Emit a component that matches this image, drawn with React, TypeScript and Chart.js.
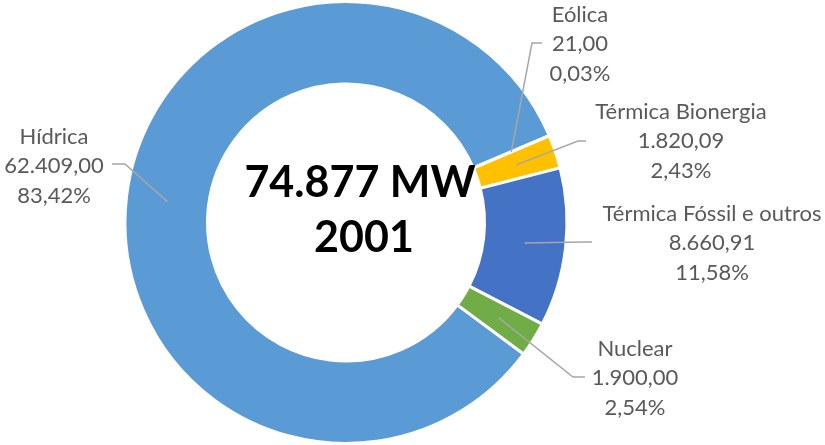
import React, { useEffect, useRef } from "react";
import { Chart, registerables } from "chart.js";

Chart.register(...registerables);

const categories = ["Hídrica", "Eólica", "Térmica Bionergia", "Térmica Fóssil e outros", "Nuclear"];
const valuesMW = [62409.0, 21.0, 1820.09, 8660.91, 1900.0];
const colors = ["#5B9BD5", "#ED7D31", "#FFC000", "#4472C4", "#70AD47"];
const centerLines = ["74.877 MW", "2001"];

// label layout: text centre x, middle-line y, leader end x/y, elbow x
const labelLayout = [
  { tx: 54, ty: 166, ex: 112, ey: 164, bx: 125 },
  { tx: 580, ty: 44, ex: 542, ey: 43, bx: 532 },
  { tx: 681, ty: 141, ex: 586, ey: 141, bx: 578 },
  { tx: 712, ty: 243, ex: 592, ey: 242, bx: 584 },
  { tx: 635, ty: 378, ex: 585, ey: 377, bx: 573 },
];

function fmtBR(v: number, digits: number): string {
  const fixed = v.toFixed(digits);
  const [intPart, dec] = fixed.split(".");
  const withDots = intPart.replace(/\B(?=(\d{3})+(?!\d))/g, ".");
  return dec !== undefined ? withDots + "," + dec : withDots;
}

const labelsPlugin = {
  id: "donutLabels",
  afterDraw(chart: any) {
    const ctx = chart.ctx;
    const meta = chart.getDatasetMeta(0);
    const data = chart.data.datasets[0].data as number[];
    const total = data.reduce((a, b) => a + b, 0);
    ctx.save();
    meta.data.forEach((arc: any, i: number) => {
      const p = arc.getProps(["x", "y", "startAngle", "endAngle", "innerRadius", "outerRadius"], true);
      const mid = (p.startAngle + p.endAngle) / 2;
      const r = (p.innerRadius + p.outerRadius) / 2;
      const ax = p.x + Math.cos(mid) * r;
      const ay = p.y + Math.sin(mid) * r;
      const L = labelLayout[i];
      ctx.strokeStyle = "#A6A6A6";
      ctx.lineWidth = 1.5;
      ctx.beginPath();
      ctx.moveTo(ax, ay);
      ctx.lineTo(L.bx, L.ey);
      ctx.lineTo(L.ex, L.ey);
      ctx.stroke();
      ctx.fillStyle = "#595959";
      ctx.font = "22px Lato";
      ctx.textAlign = "center";
      ctx.textBaseline = "middle";
      const lines = [
        chart.data.labels[i],
        fmtBR(data[i], 2),
        fmtBR((data[i] / total) * 100, 2) + "%",
      ];
      lines.forEach((t: string, k: number) => {
        ctx.fillText(t, L.tx, L.ty + (k - 1) * 29.5);
      });
    });
    // centre title
    const a0 = meta.data[0].getProps(["x", "y"], true);
    ctx.fillStyle = "#000000";
    ctx.font = "bold 43px Lato";
    ctx.textAlign = "center";
    ctx.textBaseline = "alphabetic";
    ctx.fillText(centerLines[0], a0.x + 14, a0.y - 26);
    ctx.fillText(centerLines[1], a0.x + 18, a0.y + 29);
    ctx.restore();
  },
};

export default function App() {
  const ref = useRef<HTMLCanvasElement>(null);
  useEffect(() => {
    document.body.style.margin = "0";
    const chart = new Chart(ref.current as HTMLCanvasElement, {
      type: "doughnut",
      data: {
        labels: categories,
        datasets: [
          {
            data: valuesMW,
            backgroundColor: colors,
            borderColor: "#FFFFFF",
            borderWidth: 3,
            hoverOffset: 0,
          },
        ],
      },
      options: {
        responsive: false,
        animation: false,
        rotation: 126.5,
        cutout: 138.5,
        layout: { padding: { left: 123, right: 256, top: 0, bottom: -1 } },
        plugins: {
          legend: { display: false },
          tooltip: { enabled: false },
        },
        events: [],
      },
      plugins: [labelsPlugin],
    });
    return () => chart.destroy();
  }, []);
  return (
    <div style={{ position: "absolute", left: 0, top: 0, width: 825, height: 445, background: "#fff" }}>
      <canvas ref={ref} width={825} height={445} />
    </div>
  );
}
